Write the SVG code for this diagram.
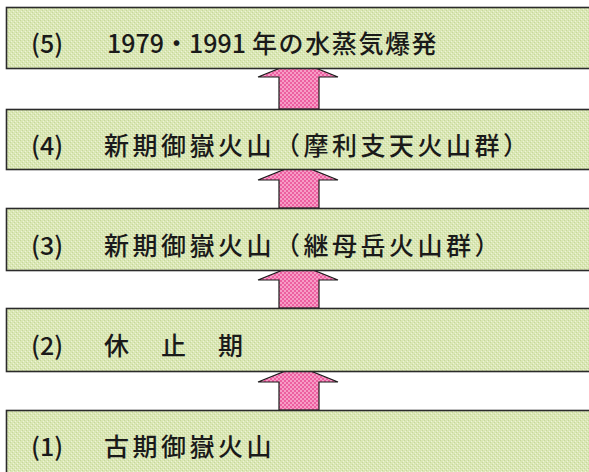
<svg xmlns="http://www.w3.org/2000/svg" width="589" height="472" viewBox="0 0 589 472">
<defs>
<pattern id="grn" width="4" height="4" patternUnits="userSpaceOnUse">
<rect width="4" height="4" fill="#dae7b4"/>
<rect x="0" y="0" width="1" height="1" fill="#c6d79c"/>
<rect x="2" y="2" width="1" height="1" fill="#c6d79c"/>
<rect x="1" y="3" width="1" height="1" fill="#edf3da"/>
<rect x="3" y="1" width="1" height="1" fill="#edf3da"/>
</pattern>
<pattern id="pnk" width="4" height="4" patternUnits="userSpaceOnUse">
<rect width="4" height="4" fill="#f79cc6"/>
<rect x="0" y="0" width="2" height="2" fill="#ec5fa0"/>
<rect x="2" y="2" width="2" height="2" fill="#ec5fa0"/>
</pattern>
<style>
.box{fill:url(#grn);stroke:#2b2b2b;stroke-width:1.6}
.arr{fill:url(#pnk);stroke:#1a1a1a;stroke-width:1.2;stroke-linejoin:miter}
.t{font-family:"Noto Sans CJK JP","Noto Sans CJK SC",sans-serif;font-size:25px;font-weight:500;fill:#1a1a1a}
.j{letter-spacing:3.5px}
</style>
</defs>
<rect width="589" height="472" fill="#ffffff"/>
<g id="connectors">
<path class="arr" d="M279,109 V77 H258 L298,61 L338,77 H319 V109 Z"/>
<path class="arr" d="M279,208 V180 H258 L298,164 L338,180 H319 V208 Z"/>
<path class="arr" d="M279,308 V280 H258 L298,264 L338,280 H319 V308 Z"/>
<path class="arr" d="M279,410 V382 H258 L298,366 L338,382 H319 V410 Z"/>
</g>
<g id="node5">
<rect class="box" x="6.5" y="7.5" width="590" height="61"/>
<text class="t" x="31" y="53">(5)</text>
<text class="t" x="107" y="53">1979・1991</text>
<text class="t" x="252" y="53" style="letter-spacing:1.6px">年の水蒸気爆発</text>
</g>
<g id="node4">
<rect class="box" x="6.5" y="109.5" width="590" height="60"/>
<text class="t" x="31" y="155">(4)</text>
<text class="t j" x="104" y="155">新期御嶽火山（摩利支天火山群）</text>
</g>
<g id="node3">
<rect class="box" x="6.5" y="208.5" width="590" height="62"/>
<text class="t" x="31" y="255">(3)</text>
<text class="t j" x="104" y="255">新期御嶽火山（継母岳火山群）</text>
</g>
<g id="node2">
<rect class="box" x="6.5" y="308.5" width="590" height="63"/>
<text class="t" x="31" y="355">(2)</text>
<text class="t j" x="104" y="355">休　止　期</text>
</g>
<g id="node1">
<rect class="box" x="6.5" y="410.5" width="590" height="70"/>
<text class="t" x="31" y="456">(1)</text>
<text class="t j" x="104" y="456">古期御嶽火山</text>
</g>
</svg>
